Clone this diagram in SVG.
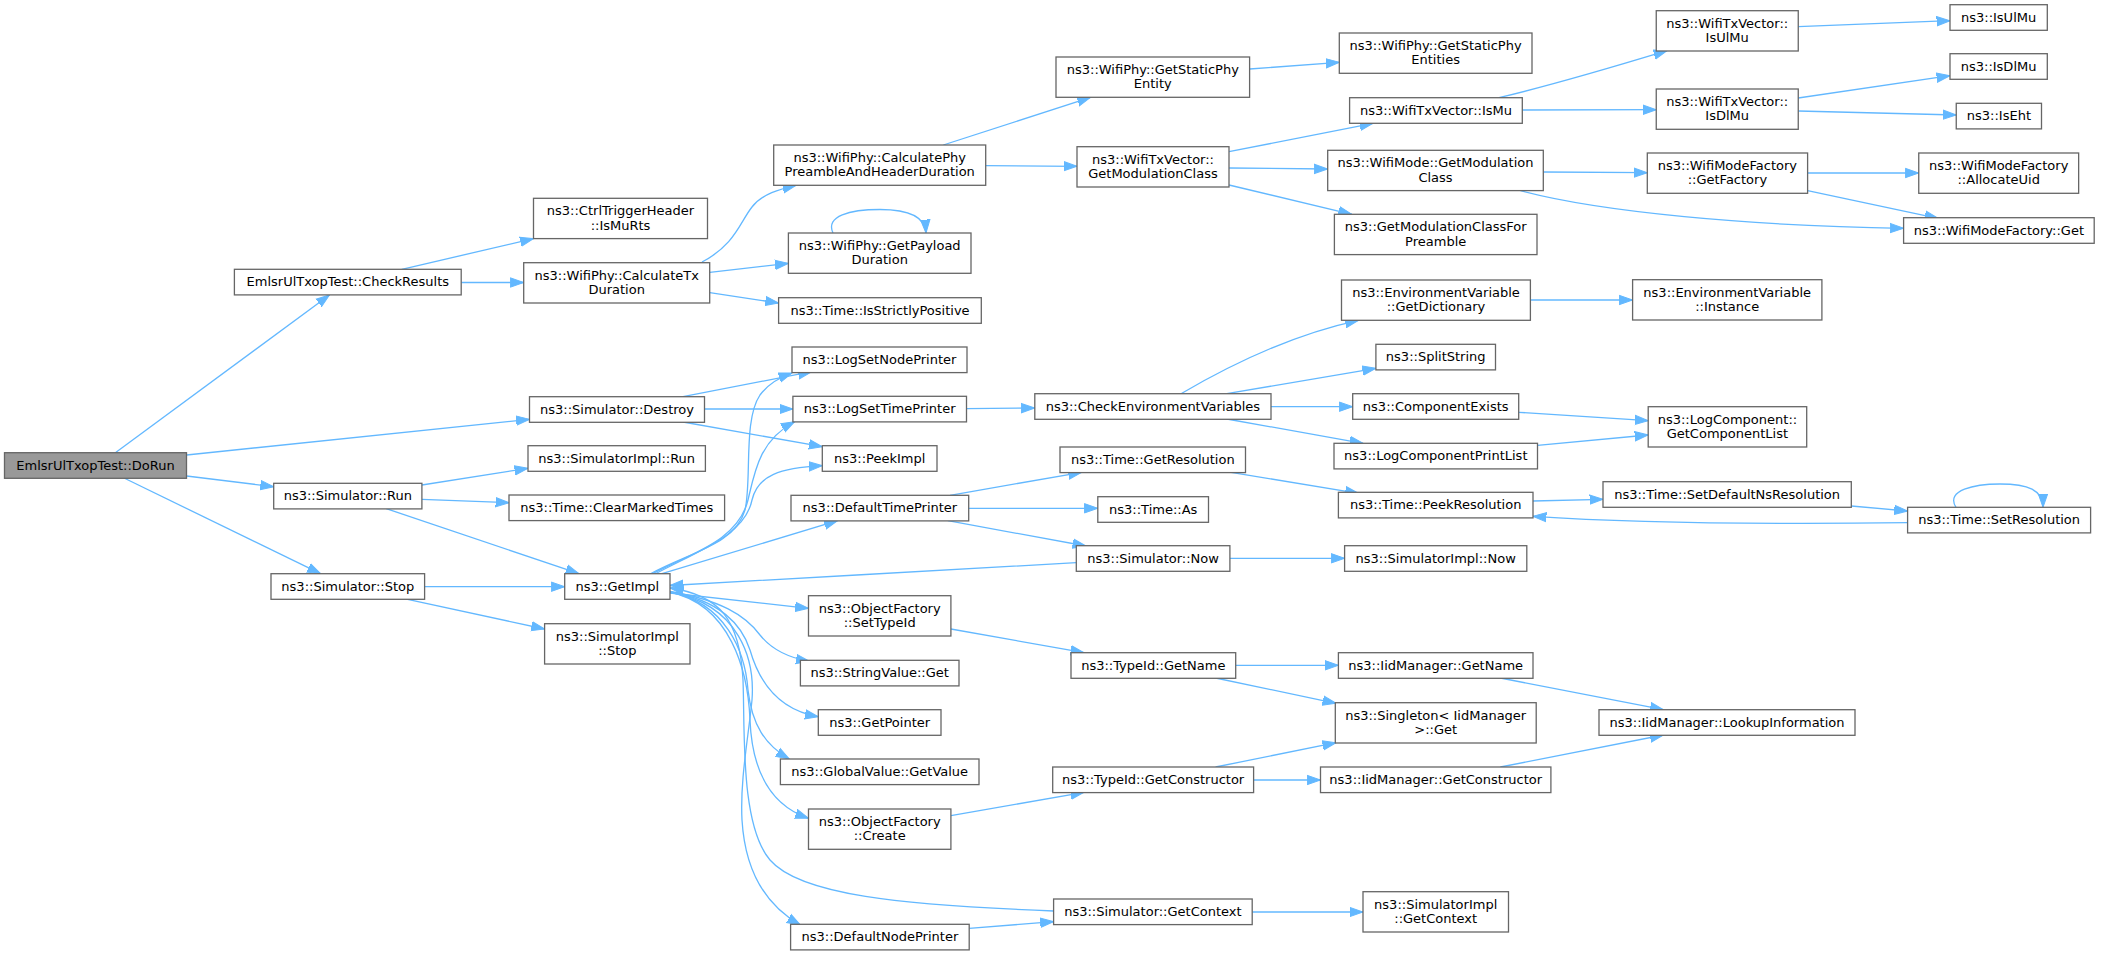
<svg xmlns="http://www.w3.org/2000/svg" width="2101" height="955" viewBox="0 0 2101 955">
<style>
.node rect{fill:#ffffff;stroke:#666666;stroke-width:1.3}
.node.root rect{fill:#999999}
.node text{font-family:"DejaVu Sans","Liberation Sans",sans-serif;font-size:13px;text-anchor:middle;fill:#000000}
.edges path{fill:none;stroke:#63b8ff;stroke-width:1.3;marker-end:url(#arr)}
</style>
<defs>
<marker id="arr" markerUnits="userSpaceOnUse" markerWidth="16" markerHeight="12" viewBox="0 -6 16 12" refX="13.4" refY="0" orient="auto"><path d="M0,-4.7L13.4,0L0,4.7z" fill="#63b8ff" stroke="#63b8ff" stroke-width="1"/></marker>
</defs>
<rect width="2101" height="955" fill="#ffffff"/>
<g id="edges" class="edges">
<path d="M115,453 L329.5,295"/>
<path d="M186.6,455 L529.5,419.3"/>
<path d="M186.6,476 L273.7,486.7"/>
<path d="M124,478 L320.5,573.7"/>
<path d="M401.8,269.3 L533.5,238.7"/>
<path d="M461.2,282.5 L523.7,282.5"/>
<path d="M702,262 C735,245 740,222 752,207 C762,194 780,189 796,185.3"/>
<path d="M709.8,272.3 L788.4,263.3"/>
<path d="M709.8,292.7 L778.6,303"/>
<path d="M833,233 C825,216 850,209.5 880,209.5 C906,209.5 925,215 926,233"/>
<path d="M943.3,145 L1090.6,97.3"/>
<path d="M985.7,165.7 L1077,166.3"/>
<path d="M1249.6,69 L1339.3,62.3"/>
<path d="M1229,151.7 L1373,123.3"/>
<path d="M1229,168 L1327.7,169"/>
<path d="M1229,185 L1351.8,214.3"/>
<path d="M1499,97.7 C1540,88 1620,65 1667,50.7"/>
<path d="M1522.3,110 L1656.25,109.7"/>
<path d="M1798.2,26.7 L1950,20.7"/>
<path d="M1798.2,98 L1950,75.7"/>
<path d="M1798.2,111 L1956.25,115"/>
<path d="M1543.3,172 L1647.3,172.7"/>
<path d="M1520.5,190.7 C1600,212 1750,226 1903.6,228.3"/>
<path d="M1807.6,173 L1918.75,173"/>
<path d="M1807.6,190.7 L1938,218.3"/>
<path d="M1530.4,300 L1632.6,300"/>
<path d="M1518.75,412.3 L1648.2,420.7"/>
<path d="M1537.5,445.3 L1648.2,435"/>
<path d="M683,396.7 L811.6,371.7"/>
<path d="M704.5,409 L792.9,409"/>
<path d="M683,422 L822.3,446.7"/>
<path d="M966.5,408.7 L1034.8,408"/>
<path d="M1181,393.7 C1230,365 1290,335 1358.5,320.3"/>
<path d="M1226.8,393.7 L1375.9,368.3"/>
<path d="M1271,406.7 L1352.7,406.7"/>
<path d="M1226.8,419 L1363,443.3"/>
<path d="M421.9,485 L528,468.3"/>
<path d="M421.9,499.3 L509,502.7"/>
<path d="M386.2,508.7 L579,573.7"/>
<path d="M424.6,586.7 L564.7,586.7"/>
<path d="M407.6,599.3 L544.6,629"/>
<path d="M650,574 C690,552 735,545 745,510 C752,480 743,420 760,395 C768,384 778,378 792,373"/>
<path d="M652,574 C695,552 738,540 748,500 C755,470 760,440 794.6,421.7"/>
<path d="M655,574 C700,550 745,535 752,500 C758,475 780,468 822.3,465.7"/>
<path d="M662,573.7 L837.5,520.7"/>
<path d="M1076.3,562.7 C950,570 800,578 670,585.5"/>
<path d="M670,593 L808.5,608.3"/>
<path d="M670,591.5 C720,600 745,615 760,635 C772,650 790,658 809.4,661.3"/>
<path d="M670,592 C720,600 742,625 750,650 C760,685 780,710 818.3,716.7"/>
<path d="M670,592 C725,603 745,650 748,690 C752,725 765,745 789.3,759"/>
<path d="M670,592 C730,605 748,670 750,720 C752,770 770,805 808.5,818.3"/>
<path d="M1053.6,911 C900,905 800,895 770,860 C740,825 745,730 743,680 C740,620 720,595 670,588"/>
<path d="M670,592 C740,605 755,660 752,700 C748,740 740,780 742,820 C745,870 765,905 800.4,925"/>
<path d="M950,495.3 L1081.7,472.3"/>
<path d="M968.75,508.3 L1097.8,508.3"/>
<path d="M947.8,520.7 L1086,546"/>
<path d="M1231,472.3 L1358.5,493.3"/>
<path d="M1229.9,558.3 L1344.6,558.3"/>
<path d="M1533,501 L1603,499.3"/>
<path d="M1851.3,506 L1907.6,511"/>
<path d="M1907.6,522.7 C1800,524 1650,524 1533,516.3"/>
<path d="M1956,507.3 C1945,490 1975,484 2000,484 C2028,484 2043,490 2043,507.3"/>
<path d="M950.9,629 L1084,652.7"/>
<path d="M1235.7,665.3 L1338.4,665.3"/>
<path d="M1215.6,678 L1336,703.3"/>
<path d="M1500.4,678 L1663.4,709.7"/>
<path d="M1215.6,767 L1336,742.7"/>
<path d="M1253.6,780 L1320.5,780"/>
<path d="M1500.4,767 L1663.4,735"/>
<path d="M950.9,815.7 L1084,792.3"/>
<path d="M1252.2,912 L1363,912"/>
<path d="M969.2,928.3 L1053.6,921.7"/>
</g>
<g id="n_dorun" class="node root"><rect x="4.5" y="452.7" width="182" height="25.6"/><text x="95.5" y="469.5">EmlsrUlTxopTest::DoRun</text></g>
<g id="n_checkresults" class="node"><rect x="234.4" y="269.3" width="226.8" height="25.6"/><text x="347.8" y="286.1">EmlsrUlTxopTest::CheckResults</text></g>
<g id="n_ismurts" class="node"><rect x="533.5" y="198.3" width="174" height="40.3"/><text x="620.5" y="215.3">ns3::CtrlTriggerHeader</text><text x="620.5" y="229.7">::IsMuRts</text></g>
<g id="n_calctx" class="node"><rect x="523.7" y="262.7" width="186" height="40.3"/><text x="616.7" y="279.7">ns3::WifiPhy::CalculateTx</text><text x="616.7" y="294.1">Duration</text></g>
<g id="n_destroy" class="node"><rect x="529.5" y="396.7" width="175" height="25.6"/><text x="617" y="413.5">ns3::Simulator::Destroy</text></g>
<g id="n_simimplrun" class="node"><rect x="528" y="445.7" width="177.4" height="25.6"/><text x="616.7" y="462.5">ns3::SimulatorImpl::Run</text></g>
<g id="n_simrun" class="node"><rect x="273.7" y="483.3" width="148.2" height="25.6"/><text x="347.8" y="500.1">ns3::Simulator::Run</text></g>
<g id="n_clearmarked" class="node"><rect x="509" y="495" width="215.6" height="25.6"/><text x="616.8" y="511.8">ns3::Time::ClearMarkedTimes</text></g>
<g id="n_simstop" class="node"><rect x="271" y="573.7" width="153.6" height="25.6"/><text x="347.8" y="590.5">ns3::Simulator::Stop</text></g>
<g id="n_getimpl" class="node"><rect x="564.7" y="573.7" width="105.3" height="25.6"/><text x="617.3" y="590.5">ns3::GetImpl</text></g>
<g id="n_simimplstop" class="node"><rect x="544.6" y="623.7" width="145.4" height="40.3"/><text x="617.3" y="640.7">ns3::SimulatorImpl</text><text x="617.3" y="655.1">::Stop</text></g>
<g id="n_calcphy" class="node"><rect x="773.7" y="145" width="212" height="40.3"/><text x="879.7" y="162">ns3::WifiPhy::CalculatePhy</text><text x="879.7" y="176.4">PreambleAndHeaderDuration</text></g>
<g id="n_getstaticphy" class="node"><rect x="1056" y="57" width="193.6" height="40.3"/><text x="1152.8" y="74">ns3::WifiPhy::GetStaticPhy</text><text x="1152.8" y="88.4">Entity</text></g>
<g id="n_getstaticphyents" class="node"><rect x="1339.3" y="33" width="192.7" height="40.3"/><text x="1435.6" y="50">ns3::WifiPhy::GetStaticPhy</text><text x="1435.6" y="64.4">Entities</text></g>
<g id="n_getmodclass" class="node"><rect x="1077" y="146.7" width="152" height="40.3"/><text x="1153" y="163.7">ns3::WifiTxVector::</text><text x="1153" y="178.1">GetModulationClass</text></g>
<g id="n_ismu" class="node"><rect x="1349.6" y="97.7" width="172.7" height="25.6"/><text x="1436" y="114.5">ns3::WifiTxVector::IsMu</text></g>
<g id="n_wifimode_getmod" class="node"><rect x="1327.7" y="150.3" width="215.6" height="40.3"/><text x="1435.5" y="167.3">ns3::WifiMode::GetModulation</text><text x="1435.5" y="181.7">Class</text></g>
<g id="n_getmodpreamble" class="node"><rect x="1334.4" y="214.3" width="202.6" height="40.3"/><text x="1435.7" y="231.3">ns3::GetModulationClassFor</text><text x="1435.7" y="245.7">Preamble</text></g>
<g id="n_getpayload" class="node"><rect x="788.4" y="233" width="182.6" height="40.3"/><text x="879.7" y="250">ns3::WifiPhy::GetPayload</text><text x="879.7" y="264.4">Duration</text></g>
<g id="n_isstrict" class="node"><rect x="778.6" y="297.7" width="202.7" height="25.6"/><text x="880" y="314.5">ns3::Time::IsStrictlyPositive</text></g>
<g id="n_lognode" class="node"><rect x="792" y="347" width="175" height="25.6"/><text x="879.5" y="363.8">ns3::LogSetNodePrinter</text></g>
<g id="n_logtime" class="node"><rect x="792.9" y="396.3" width="173.6" height="25.6"/><text x="879.7" y="413.1">ns3::LogSetTimePrinter</text></g>
<g id="n_peekimpl" class="node"><rect x="822.3" y="445.7" width="114.7" height="25.6"/><text x="879.7" y="462.5">ns3::PeekImpl</text></g>
<g id="n_checkenv" class="node"><rect x="1034.8" y="393.7" width="236.2" height="25.6"/><text x="1152.9" y="410.5">ns3::CheckEnvironmentVariables</text></g>
<g id="n_getres" class="node"><rect x="1060" y="447" width="185.5" height="25.6"/><text x="1152.8" y="463.8">ns3::Time::GetResolution</text></g>
<g id="n_getdict" class="node"><rect x="1341.5" y="280" width="188.9" height="40.3"/><text x="1436" y="297">ns3::EnvironmentVariable</text><text x="1436" y="311.4">::GetDictionary</text></g>
<g id="n_split" class="node"><rect x="1375.9" y="344.3" width="119.6" height="25.6"/><text x="1435.7" y="361.1">ns3::SplitString</text></g>
<g id="n_compexists" class="node"><rect x="1352.7" y="393.7" width="166" height="25.6"/><text x="1435.7" y="410.5">ns3::ComponentExists</text></g>
<g id="n_logcompprint" class="node"><rect x="1334" y="443.3" width="203.5" height="25.6"/><text x="1435.8" y="460.1">ns3::LogComponentPrintList</text></g>
<g id="n_defaulttime" class="node"><rect x="791" y="495.3" width="177.7" height="25.6"/><text x="879.9" y="512.1">ns3::DefaultTimePrinter</text></g>
<g id="n_timeas" class="node"><rect x="1097.8" y="496.7" width="110.7" height="25.6"/><text x="1153.2" y="513.5">ns3::Time::As</text></g>
<g id="n_simnow" class="node"><rect x="1076.3" y="545.7" width="153.6" height="25.6"/><text x="1153.1" y="562.5">ns3::Simulator::Now</text></g>
<g id="n_peekres" class="node"><rect x="1338.4" y="492.3" width="194.6" height="25.6"/><text x="1435.7" y="509.1">ns3::Time::PeekResolution</text></g>
<g id="n_simimplnow" class="node"><rect x="1344.6" y="545.7" width="182.2" height="25.6"/><text x="1435.7" y="562.5">ns3::SimulatorImpl::Now</text></g>
<g id="n_settypeid" class="node"><rect x="808.5" y="595.7" width="142.4" height="40.3"/><text x="879.7" y="612.7">ns3::ObjectFactory</text><text x="879.7" y="627.1">::SetTypeId</text></g>
<g id="n_tidgetname" class="node"><rect x="1071" y="652.7" width="164.7" height="25.6"/><text x="1153.3" y="669.5">ns3::TypeId::GetName</text></g>
<g id="n_iidgetname" class="node"><rect x="1338.4" y="652.7" width="194.6" height="25.6"/><text x="1435.7" y="669.5">ns3::IidManager::GetName</text></g>
<g id="n_strget" class="node"><rect x="800.4" y="660.3" width="158.6" height="25.6"/><text x="879.7" y="677.1">ns3::StringValue::Get</text></g>
<g id="n_singleton" class="node"><rect x="1335.3" y="702.7" width="200.9" height="40.3"/><text x="1435.7" y="719.7">ns3::Singleton&lt; IidManager</text><text x="1435.7" y="734.1">&gt;::Get</text></g>
<g id="n_getpointer" class="node"><rect x="818.3" y="709.7" width="122.7" height="25.6"/><text x="879.7" y="726.5">ns3::GetPointer</text></g>
<g id="n_globalval" class="node"><rect x="780.4" y="759" width="198.6" height="25.6"/><text x="879.7" y="775.8">ns3::GlobalValue::GetValue</text></g>
<g id="n_tidgetctor" class="node"><rect x="1052.7" y="767" width="200.9" height="25.6"/><text x="1153.1" y="783.8">ns3::TypeId::GetConstructor</text></g>
<g id="n_iidgetctor" class="node"><rect x="1320.5" y="767" width="230.4" height="25.6"/><text x="1435.7" y="783.8">ns3::IidManager::GetConstructor</text></g>
<g id="n_ofcreate" class="node"><rect x="808.5" y="809" width="142.4" height="40.3"/><text x="879.7" y="826">ns3::ObjectFactory</text><text x="879.7" y="840.4">::Create</text></g>
<g id="n_getcontext" class="node"><rect x="1053.6" y="899" width="198.6" height="25.6"/><text x="1152.9" y="915.8">ns3::Simulator::GetContext</text></g>
<g id="n_simimplctx" class="node"><rect x="1363" y="891.7" width="145.5" height="40.3"/><text x="1435.7" y="908.7">ns3::SimulatorImpl</text><text x="1435.7" y="923.1">::GetContext</text></g>
<g id="n_defaultnode" class="node"><rect x="790.6" y="924.3" width="178.6" height="25.6"/><text x="879.9" y="941.1">ns3::DefaultNodePrinter</text></g>
<g id="n_txisulmu" class="node"><rect x="1656.25" y="10.7" width="142" height="40.3"/><text x="1727.2" y="27.7">ns3::WifiTxVector::</text><text x="1727.2" y="42.1">IsUlMu</text></g>
<g id="n_isulmu" class="node"><rect x="1950" y="4.7" width="97.3" height="25.6"/><text x="1998.6" y="21.5">ns3::IsUlMu</text></g>
<g id="n_isdlmu" class="node"><rect x="1950" y="53.7" width="97.3" height="25.6"/><text x="1998.6" y="70.5">ns3::IsDlMu</text></g>
<g id="n_txisdlmu" class="node"><rect x="1656.25" y="89" width="142" height="40.3"/><text x="1727.2" y="106">ns3::WifiTxVector::</text><text x="1727.2" y="120.4">IsDlMu</text></g>
<g id="n_iseht" class="node"><rect x="1956.25" y="103.3" width="85.25" height="25.6"/><text x="1998.9" y="120.1">ns3::IsEht</text></g>
<g id="n_getfactory" class="node"><rect x="1647.3" y="153" width="160.3" height="40.3"/><text x="1727.4" y="170">ns3::WifiModeFactory</text><text x="1727.4" y="184.4">::GetFactory</text></g>
<g id="n_allocuid" class="node"><rect x="1918.75" y="153" width="159.9" height="40.3"/><text x="1998.7" y="170">ns3::WifiModeFactory</text><text x="1998.7" y="184.4">::AllocateUid</text></g>
<g id="n_wmfget" class="node"><rect x="1903.6" y="217.7" width="190.6" height="25.6"/><text x="1998.9" y="234.5">ns3::WifiModeFactory::Get</text></g>
<g id="n_envinstance" class="node"><rect x="1632.6" y="279.7" width="189.3" height="40.3"/><text x="1727.2" y="296.7">ns3::EnvironmentVariable</text><text x="1727.2" y="311.1">::Instance</text></g>
<g id="n_getcomplist" class="node"><rect x="1648.2" y="406.7" width="158.5" height="40.3"/><text x="1727.4" y="423.7">ns3::LogComponent::</text><text x="1727.4" y="438.1">GetComponentList</text></g>
<g id="n_setdefns" class="node"><rect x="1603" y="481.7" width="248.3" height="25.6"/><text x="1727.1" y="498.5">ns3::Time::SetDefaultNsResolution</text></g>
<g id="n_setres" class="node"><rect x="1907.6" y="507.3" width="183" height="25.6"/><text x="1999.1" y="524.1">ns3::Time::SetResolution</text></g>
<g id="n_lookup" class="node"><rect x="1599" y="709.7" width="256" height="25.6"/><text x="1727" y="726.5">ns3::IidManager::LookupInformation</text></g>
</svg>
